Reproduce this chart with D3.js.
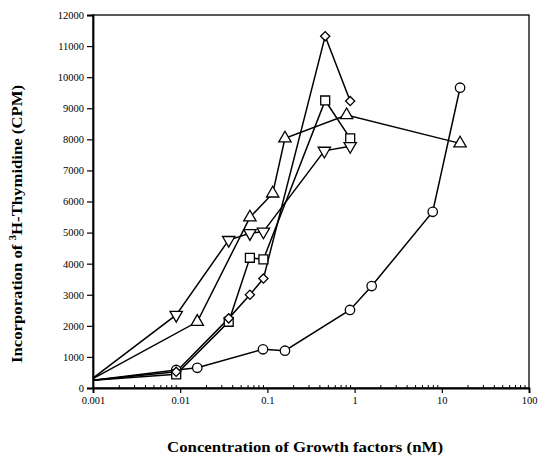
<!DOCTYPE html>
<html>
<head>
<meta charset="utf-8">
<script src="https://cdn.jsdelivr.net/npm/d3@7"></script>
<style>
body{margin:0;background:#fff;}
svg text{font-family:"Liberation Serif","DejaVu Serif",serif;fill:#000;}
</style>
</head>
<body>
<svg id="chart" width="539" height="456"></svg>
<script>
// concentrations (nM) and CPM per growth factor
const diamondX = [0.001, 0.009, 0.036, 0.063, 0.09, 0.46, 0.89];
const diamondY = [250, 520, 2240, 3000, 3520, 11320, 9230];
const squareX = [0.001, 0.009, 0.036, 0.063, 0.09, 0.46, 0.89];
const squareY = [250, 440, 2130, 4190, 4140, 9250, 8030];
const upTriX = [0.001, 0.0157, 0.063, 0.115, 0.159, 0.81, 16.2];
const upTriY = [300, 2130, 5490, 6260, 8030, 8780, 7870];
const downTriX = [0.001, 0.009, 0.036, 0.063, 0.09, 0.45, 0.89];
const downTriY = [320, 2350, 4760, 4980, 5030, 7630, 7780];
const circleX = [0.001, 0.009, 0.0157, 0.089, 0.159, 0.885, 1.57, 7.87, 16.2];
const circleY = [250, 580, 650, 1245, 1200, 2510, 3280, 5670, 9660];

const xTickVals = [0.001, 0.01, 0.1, 1, 10, 100];
const xTickLabels = ['0.001', '0.01', '0.1', '1', '10', '100'];
const yTickVals = d3.range(0, 12001, 1000);

const series = [
  {name:'circle', xs:circleX, ys:circleY},
  {name:'square', xs:squareX, ys:squareY},
  {name:'diamond', xs:diamondX, ys:diamondY},
  {name:'upTri', xs:upTriX, ys:upTriY},
  {name:'downTri', xs:downTriX, ys:downTriY}
];

const svg = d3.select('#chart');
const plotL = 93, plotR = 529, plotT = 15, plotB = 388;

const x = d3.scaleLog().domain([0.001, 100]).range([plotL, plotR]);
const y = d3.scaleLinear().domain([0, 12000]).range([plotB, plotT]);

// frame
svg.append('rect').attr('x', plotL).attr('y', plotT).attr('width', plotR-plotL).attr('height', plotB-plotT)
  .attr('fill','none').attr('stroke','#000').attr('stroke-width',1.3);

// y axis
const yAxis = svg.append('g').attr('transform',`translate(${plotL},0)`)
  .call(d3.axisLeft(y).tickValues(yTickVals).tickSize(6).tickPadding(3).tickFormat(d3.format('d')));
yAxis.select('.domain').attr('stroke-width',1.8);
yAxis.selectAll('.tick line').attr('stroke-width',1.2);
yAxis.selectAll('text').attr('font-size',10.5).attr('font-family','"Liberation Serif",serif');

// x axis: major ticks down, minor ticks up
const minor = [];
for (let e = -3; e < 2; e++) for (let m = 2; m <= 9; m++) minor.push(m * Math.pow(10, e));
const xAxis = svg.append('g').attr('transform',`translate(0,${plotB})`)
  .call(d3.axisBottom(x).tickValues(xTickVals).tickSize(5).tickPadding(4)
    .tickFormat((d,i) => xTickLabels[i]));
xAxis.select('.domain').attr('stroke-width',1.8);
xAxis.selectAll('.tick line').attr('stroke-width',1.2);
xAxis.selectAll('text').attr('font-size',10.5).attr('font-family','"Liberation Serif",serif');
svg.append('g').selectAll('line').data(minor).join('line')
  .attr('x1', d => x(d)).attr('x2', d => x(d))
  .attr('y1', plotB).attr('y2', plotB - 3)
  .attr('stroke','#000').attr('stroke-width',1);

// lines
const line = d3.line().x(d => x(d[0])).y(d => y(d[1]));
series.forEach(s => {
  const pts = s.xs.map((v,i) => [v, s.ys[i]]);
  svg.append('path').datum(pts).attr('d', line)
    .attr('fill','none').attr('stroke','#000').attr('stroke-width',1.5);
});

// markers (none on the axis start point)
const sym = {
  circle: d3.symbol().type(d3.symbolCircle).size(70),
  square: d3.symbol().type(d3.symbolSquare).size(80),
  diamond: d3.symbol().type(d3.symbolSquare).size(42),
  upTri: d3.symbol().type(d3.symbolTriangle).size(66),
  downTri: d3.symbol().type(d3.symbolTriangle).size(66)
};
const rot = {downTri: ' rotate(180)', diamond: ' rotate(45)'};
series.forEach(s => {
  const pts = s.xs.map((v,i) => [v, s.ys[i]]).filter(d => d[0] > 0.001);
  svg.append('g').selectAll('path').data(pts).join('path')
    .attr('d', sym[s.name]())
    .attr('transform', d => `translate(${x(d[0])},${y(d[1])})` + (rot[s.name] || ''))
    .attr('fill','#fff').attr('stroke','#000').attr('stroke-width',1.3);
});

// axis titles
svg.append('text').attr('x', 305).attr('y', 452).attr('text-anchor','middle')
  .attr('font-size',15).attr('font-weight','bold')
  .attr('textLength',276).attr('lengthAdjust','spacingAndGlyphs')
  .text('Concentration of Growth factors (nM)');

const yl = svg.append('text').attr('transform','translate(22,224) rotate(-90)')
  .attr('text-anchor','middle').attr('font-size',15).attr('font-weight','bold')
  .attr('textLength',278).attr('lengthAdjust','spacingAndGlyphs');
yl.append('tspan').text('Incorporation of ');
yl.append('tspan').attr('font-size',10).attr('dy',-6).text('3');
yl.append('tspan').attr('dy',6).text('H-Thymidine (CPM)');
</script>
</body>
</html>
